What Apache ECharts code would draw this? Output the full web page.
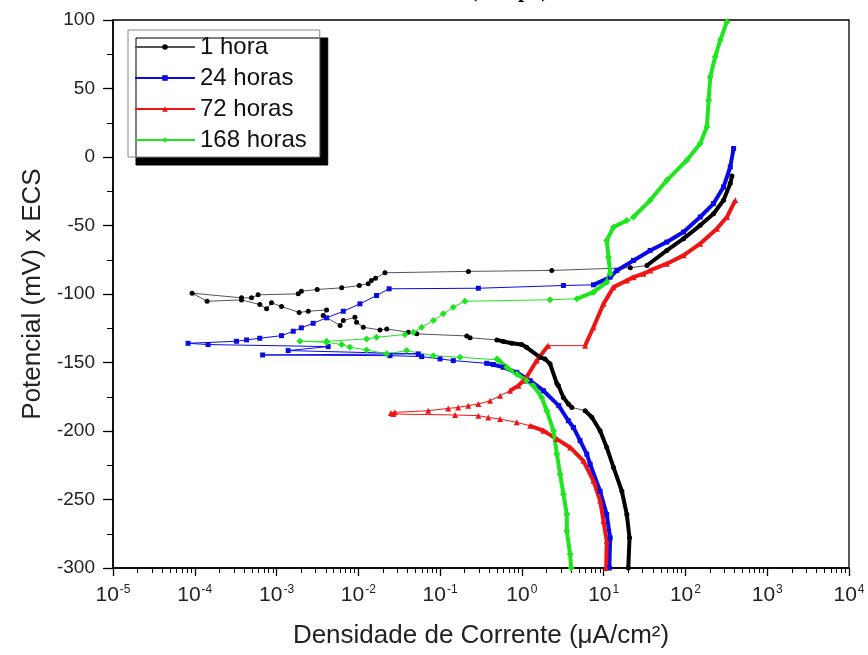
<!DOCTYPE html>
<html><head><meta charset="utf-8">
<script src="https://cdn.jsdelivr.net/npm/echarts@6/dist/echarts.min.js"></script>
<style>html,body{margin:0;padding:0;background:#fff}#c{width:868px;height:655px}</style>
</head><body><div id="c"></div>
<script>
const seriesNames = ['1 hora', '24 horas', '72 horas', '168 horas'];
const xDecades = [1e-5, 1e-4, 1e-3, 1e-2, 1e-1, 1e0, 1e1, 1e2, 1e3, 1e4];
const minorMultipliers = [2, 3, 4, 5, 6, 7, 8, 9];
const yTicks = [-300, -250, -200, -150, -100, -50, 0, 50, 100];

// 1 hora  [current density µA/cm², potential mV]
const h1_cathodic = [[20.0,-300],[20.7,-278],[19.2,-261],[16.7,-244],[13.2,-226.6],[10.9,-212],[9.05,-199.8],[7.17,-190],[5.93,-185.2]];
const h1_cathodic2 = [[4.09,-182.8],[3.70,-180.3],[3.22,-175.5],[2.80,-167],[2.68,-165.4],[2.21,-151],[1.92,-147.4],[1.67,-146.2],[1.14,-138.9],[0.995,-136.9],[0.753,-136],[0.594,-134.7],[0.494,-133.5]];
const h1_transition = [[0.2324,-132],[0.2117,-130.6],[0.0518,-129.1],[0.041,-127.9],[0.02225,-125.5],[0.0184,-126.2],[0.0115,-124.3],[0.00952,-120.6],[0.00908,-117],[0.00656,-119.4],[0.00599,-123],[0.00372,-115.7],[0.00409,-111.6],[0.00244,-112.6],[0.00189,-113.5],[0.00115,-109.1],[0.000868,-106.4],[0.000755,-110.8],[0.000625,-107.7],[0.000373,-104.3],[0.0001415,-105.3],[0.0000927,-99.4],[0.000373,-102.8],[0.000494,-102.8],[0.000595,-100.6],[0.00184,-99.9],[0.00201,-98],[0.00314,-96.7],[0.00626,-95.5],[0.01026,-93.8],[0.0132,-92.5],[0.01442,-90.1],[0.01623,-88.5],[0.02117,-84.5],[0.222,-83.5],[2.32,-82.8],[21.2,-80.8]];
const h1_anodic = [[33.8,-79.2],[59.2,-68.2],[94.8,-59.6],[151.5,-49.9],[220.6,-41.4],[292.1,-31.6],[353.3,-19.4],[370.6,-13.9]];

// 24 horas
const h24_cathodic = [[11.73,-300],[12.01,-278],[10.9,-261],[9.05,-244],[6.84,-224.2],[6.22,-216.9],[5.15,-207.1],[4.27,-197.4],[3.70,-192.5],[2.82,-181.5],[1.834,-170.6],[1.262,-163.3],[0.866,-157.2],[0.594,-153.5],[0.448,-151.5],[0.3713,-150.6]];
const h24_transition = [[0.145,-148.6],[0.0998,-147.4],[0.0595,-145.7],[0.0244,-145],[0.000675,-144.5],[0.054,-143.7],[0.001386,-141.3],[0.00428,-138.4],[0.0001455,-136.9],[0.0000828,-136],[0.000324,-134.5],[0.00043,-133.5],[0.000623,-132.3],[0.00115,-130.4],[0.0016,-127.2],[0.00201,-124.7],[0.0028,-121.4],[0.00409,-117.4],[0.00655,-112.6],[0.01047,-107.2],[0.0167,-101.1],[0.0238,-96.2],[0.2935,-95.8],[3.22,-93.8]];
const h24_anodic = [[7.50,-93.3],[12.01,-87.7],[14.53,-82.8],[23.18,-75.5],[37.07,-68.2],[59.2,-62.1],[94.8,-54.8],[151.5,-43.8],[220.6,-34],[292.1,-21.9],[353.3,-7.3],[387.9,6.2]];

// 72 horas
const h72_cathodic = [[10.72,-300],[10.9,-280.3],[9.94,-265.6],[9.05,-251],[7.50,-236.4],[5.65,-221.8],[3.89,-212],[2.68,-205.9],[1.834,-199.8],[1.262,-196.2]];
const h72_transition = [[0.866,-193.7],[0.5413,-191.3],[0.3885,-190.1],[0.2935,-188.8],[0.1526,-188.3],[0.0267,-187.6],[0.025,-186.8],[0.028,-186.4],[0.0716,-185.2],[0.1258,-183.5],[0.1665,-182.8],[0.2208,-181.5],[0.2935,-180.3],[0.408,-177.9],[0.5413,-174.2]];
const h72_rise = [[0.716,-170.6],[0.906,-166.9],[1.043,-163.3],[1.14,-160.8],[1.518,-148.6],[2.10,-137.7]];
const h72_anodic = [[5.93,-137.7],[7.50,-124.3],[9.96,-107.2],[13.2,-95],[19.2,-90.1],[23.18,-87.7],[30.72,-85.2],[37.07,-82.8],[59.2,-77.9],[94.8,-71.8],[151.5,-63.3],[242.5,-52.3],[321.8,-43.8],[407.1,-31.6]];

// 168 horas
const h168_cathodic = [[4.00,-300],[3.89,-290],[3.54,-273],[3.54,-260.7],[3.22,-246.1],[2.93,-231.5],[2.68,-216.9],[2.434,-199.8],[2.012,-185.2],[1.751,-175.5],[1.384,-166.9],[1.14,-163.3],[0.866,-158.4],[0.6526,-153.5],[0.5162,-148.1]];
const h168_transition = [[0.494,-147.4],[0.1758,-146.2],[0.0827,-145],[0.039,-141.3],[0.02225,-143.7],[0.0126,-140.8],[0.0079,-138.9],[0.00624,-136.9],[0.00409,-135.2],[0.001927,-134.5],[0.00409,-134.5],[0.0126,-132.8],[0.0167,-131.6],[0.0372,-129.6],[0.0469,-127.9],[0.0594,-124.3],[0.0827,-119.4],[0.1094,-114.5],[0.145,-109.6],[0.2012,-105.3],[2.21,-104.2]];
const h168_anodic = [[4.70,-103.5],[7.50,-98.7],[10.9,-91.4],[12.01,-85.2],[11.46,-73.1],[10.9,-60.9],[13.2,-51.2],[19.2,-46.3]];
const h168_anodic2 = [[23.18,-43.8],[37.07,-31.6],[59.2,-17],[104.0,-2.4],[151.5,9.8],[182.9,22],[192.1,41.5],[201.3,58.5],[231.0,73.2],[266.8,85.4],[321.8,98.8]];

const minorTicks = [];
xDecades.slice(0, -1).forEach(d => minorMultipliers.forEach(m => minorTicks.push(m * d)));

const FONT = '"Liberation Sans", Arial, sans-serif';

function thin(name, data, color, lineColor, symbol, size) {
  return { type: 'line', name, data, xAxisIndex: 0, yAxisIndex: 0,
    symbol, symbolSize: size, showSymbol: true, showAllSymbol: true,
    itemStyle: { color }, lineStyle: { color: lineColor, width: 1 },
    emphasis: { disabled: true }, animation: false, clip: true };
}
function thick(name, data, color, w) {
  return { type: 'line', name, data, xAxisIndex: 0, yAxisIndex: 0,
    symbol: 'none', itemStyle: { color }, lineStyle: { color, width: w || 4 },
    emphasis: { disabled: true }, animation: false, clip: true };
}

const cBlack = '#000000', cBlue = '#0a0ae6', cRed = '#f01414', cGreen = '#1ee61e';

const series = [
  thin(seriesNames[0], [...h1_cathodic, ...h1_cathodic2, ...h1_transition, ...h1_anodic], cBlack, '#555', 'circle', 5),
  thick(seriesNames[0], h1_cathodic, cBlack), thick(seriesNames[0], h1_cathodic2, cBlack), thick(seriesNames[0], h1_anodic, cBlack),
  thin(seriesNames[1], [...h24_cathodic, ...h24_transition, ...h24_anodic], cBlue, cBlue, 'rect', 5),
  thick(seriesNames[1], h24_cathodic, cBlue), thick(seriesNames[1], h24_anodic, cBlue),
  thin(seriesNames[2], [...h72_cathodic, ...h72_transition, ...h72_rise, ...h72_anodic], cRed, cRed, 'triangle', 6),
  thick(seriesNames[2], h72_cathodic, cRed), thick(seriesNames[2], h72_rise, cRed), thick(seriesNames[2], h72_anodic, cRed),
  thin(seriesNames[3], [...h168_cathodic, ...h168_transition, ...h168_anodic, ...h168_anodic2], cGreen, cGreen, 'diamond', 7),
  thick(seriesNames[3], h168_cathodic, cGreen), thick(seriesNames[3], h168_anodic, cGreen), thick(seriesNames[3], h168_anodic2, cGreen)
];

const chart = echarts.init(document.getElementById('c'), null, { renderer: 'canvas' });
chart.setOption({
  animation: false,
  backgroundColor: '#fff',
  grid: { left: 113, right: 19, top: 20, bottom: 87, show: true, borderColor: '#000', borderWidth: 1.3, backgroundColor: 'transparent' },
  xAxis: [{
    type: 'log', logBase: 10, min: 1e-5, max: 1e4, position: 'bottom',
    name: 'Densidade de Corrente (μA/cm²)', nameLocation: 'middle', nameGap: 55,
    nameTextStyle: { fontFamily: FONT, fontSize: 26, color: '#222' },
    axisLine: { show: true, onZero: false, lineStyle: { color: '#000', width: 1.6 } },
    axisTick: { show: true, inside: false, length: 8, customValues: xDecades, lineStyle: { color: '#000', width: 1.3 } },
    axisLabel: { show: true, margin: 16, customValues: xDecades, color: '#222',
      formatter: v => '{b|10}{s|' + Math.round(Math.log10(v)) + '}',
      rich: { b: { fontFamily: FONT, fontSize: 21, color: '#222' }, s: { fontFamily: FONT, fontSize: 12, color: '#222', padding: [0, 0, 10, 1] } } },
    splitLine: { show: false }, minorTick: { show: false }
  }, {
    type: 'log', logBase: 10, min: 1e-5, max: 1e4, position: 'bottom', gridIndex: 0,
    axisLine: { show: false, onZero: false }, axisLabel: { show: false }, splitLine: { show: false },
    axisTick: { show: true, inside: false, length: 5, customValues: minorTicks, lineStyle: { color: '#000', width: 1 } }
  }],
  yAxis: [{
    type: 'value', min: -300, max: 100, interval: 50, position: 'left',
    name: 'Potencial (mV) x ECS', nameLocation: 'middle', nameGap: 67, nameRotate: 90,
    nameTextStyle: { fontFamily: FONT, fontSize: 26, color: '#222' },
    axisLine: { show: true, onZero: false, lineStyle: { color: '#000', width: 1.6 } },
    axisTick: { show: true, inside: false, length: 10, lineStyle: { color: '#000', width: 1.3 } },
    minorTick: { show: true, splitNumber: 2, length: 6, lineStyle: { color: '#000', width: 1 } },
    axisLabel: { margin: 18, fontFamily: FONT, fontSize: 19, color: '#222' },
    splitLine: { show: false }, minorSplitLine: { show: false }
  }],
  legend: {
    data: seriesNames, orient: 'vertical', left: 128, top: 30,
    backgroundColor: '#fff', borderColor: '#888', borderWidth: 1,
    shadowColor: '#000', shadowBlur: 0, shadowOffsetX: 8, shadowOffsetY: 8,
    padding: [5, 13, 5, 6], itemGap: 7, itemWidth: 60, itemHeight: 7,
    textStyle: { fontFamily: FONT, fontSize: 24, color: '#111' },
    z: 10
  },
  graphic: [
    { type: 'text', x: 470, y: -20, style: { text: '(Tempo)', font: 'bold 22px "Liberation Serif"', fill: '#000' }, z: 5, silent: true }
  ],
  series
});
</script></body></html>
